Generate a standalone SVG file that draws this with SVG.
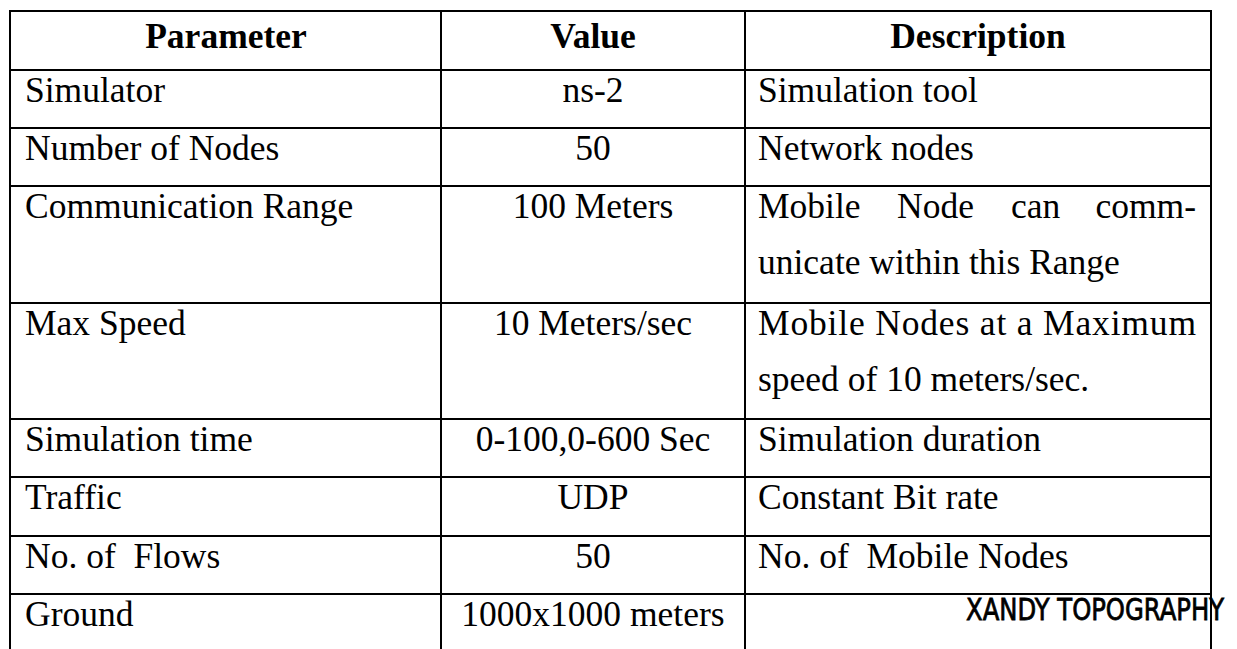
<svg xmlns="http://www.w3.org/2000/svg" width="1237" height="649" viewBox="0 0 1237 649">
<style>
.t{font-family:"Liberation Serif","Times New Roman",serif;font-size:35.5px;fill:#000;white-space:pre}
.h{font-weight:bold;text-anchor:middle}
.c{text-anchor:middle}
.g{stroke:#000;stroke-width:2;fill:none}
.hw{font-family:"DejaVu Sans",sans-serif;font-size:30px;fill:#000;stroke:#000;stroke-width:0.8}
</style>
<rect width="1237" height="649" fill="#fff"/>
<g id="grid" class="g">
<line x1="10" y1="11" x2="1211" y2="11"/>
<line x1="10" y1="70" x2="1211" y2="70"/>
<line x1="10" y1="128" x2="1211" y2="128"/>
<line x1="10" y1="186" x2="1211" y2="186"/>
<line x1="10" y1="303" x2="1211" y2="303"/>
<line x1="10" y1="419" x2="1211" y2="419"/>
<line x1="10" y1="477" x2="1211" y2="477"/>
<line x1="10" y1="536" x2="1211" y2="536"/>
<line x1="10" y1="594" x2="1211" y2="594"/>
<line x1="10" y1="10" x2="10" y2="649"/>
<line x1="441" y1="10" x2="441" y2="649"/>
<line x1="745" y1="10" x2="745" y2="649"/>
<line x1="1211" y1="10" x2="1211" y2="649"/>
</g>
<g id="header">
<text class="t h" x="226" y="48">Parameter</text>
<text class="t h" x="593" y="48">Value</text>
<text class="t h" x="978" y="48">Description</text>
</g>
<g id="row-simulator">
<text class="t" x="25" y="102">Simulator</text>
<text class="t c" x="593" y="102">ns-2</text>
<text class="t" x="758" y="102">Simulation tool</text>
</g>
<g id="row-nodes">
<text class="t" x="25" y="160">Number of Nodes</text>
<text class="t c" x="593" y="160">50</text>
<text class="t" x="758" y="160">Network nodes</text>
</g>
<g id="row-range">
<text class="t" x="25" y="218">Communication Range</text>
<text class="t c" x="593" y="218">100 Meters</text>
<text class="t" x="758" y="218">Mobile</text>
<text class="t" x="897" y="218">Node</text>
<text class="t" x="1011" y="218">can</text>
<text class="t" x="1196" y="218" text-anchor="end">comm-</text>
<text class="t" x="758" y="274">unicate within this Range</text>
</g>
<g id="row-speed">
<text class="t" x="25" y="335">Max Speed</text>
<text class="t c" x="593" y="335">10 Meters/sec</text>
<text class="t" x="758" y="335" textLength="438" lengthAdjust="spacing">Mobile Nodes at a Maximum</text>
<text class="t" x="758" y="391">speed of 10 meters/sec.</text>
</g>
<g id="row-time">
<text class="t" x="25" y="451">Simulation time</text>
<text class="t c" x="593" y="451">0-100,0-600 Sec</text>
<text class="t" x="758" y="451">Simulation duration</text>
</g>
<g id="row-traffic">
<text class="t" x="25" y="509">Traffic</text>
<text class="t c" x="593" y="509">UDP</text>
<text class="t" x="758" y="509">Constant Bit rate</text>
</g>
<g id="row-flows">
<text class="t" x="25" y="568">No. of  Flows</text>
<text class="t c" x="593" y="568">50</text>
<text class="t" x="758" y="568">No. of  Mobile Nodes</text>
</g>
<g id="row-ground">
<text class="t" x="25" y="626">Ground</text>
<text class="t c" x="593" y="626">1000x1000 meters</text>
<text class="hw" x="966" y="620" textLength="258" lengthAdjust="spacingAndGlyphs">XANDY TOPOGRAPHY</text>
</g>
</svg>
